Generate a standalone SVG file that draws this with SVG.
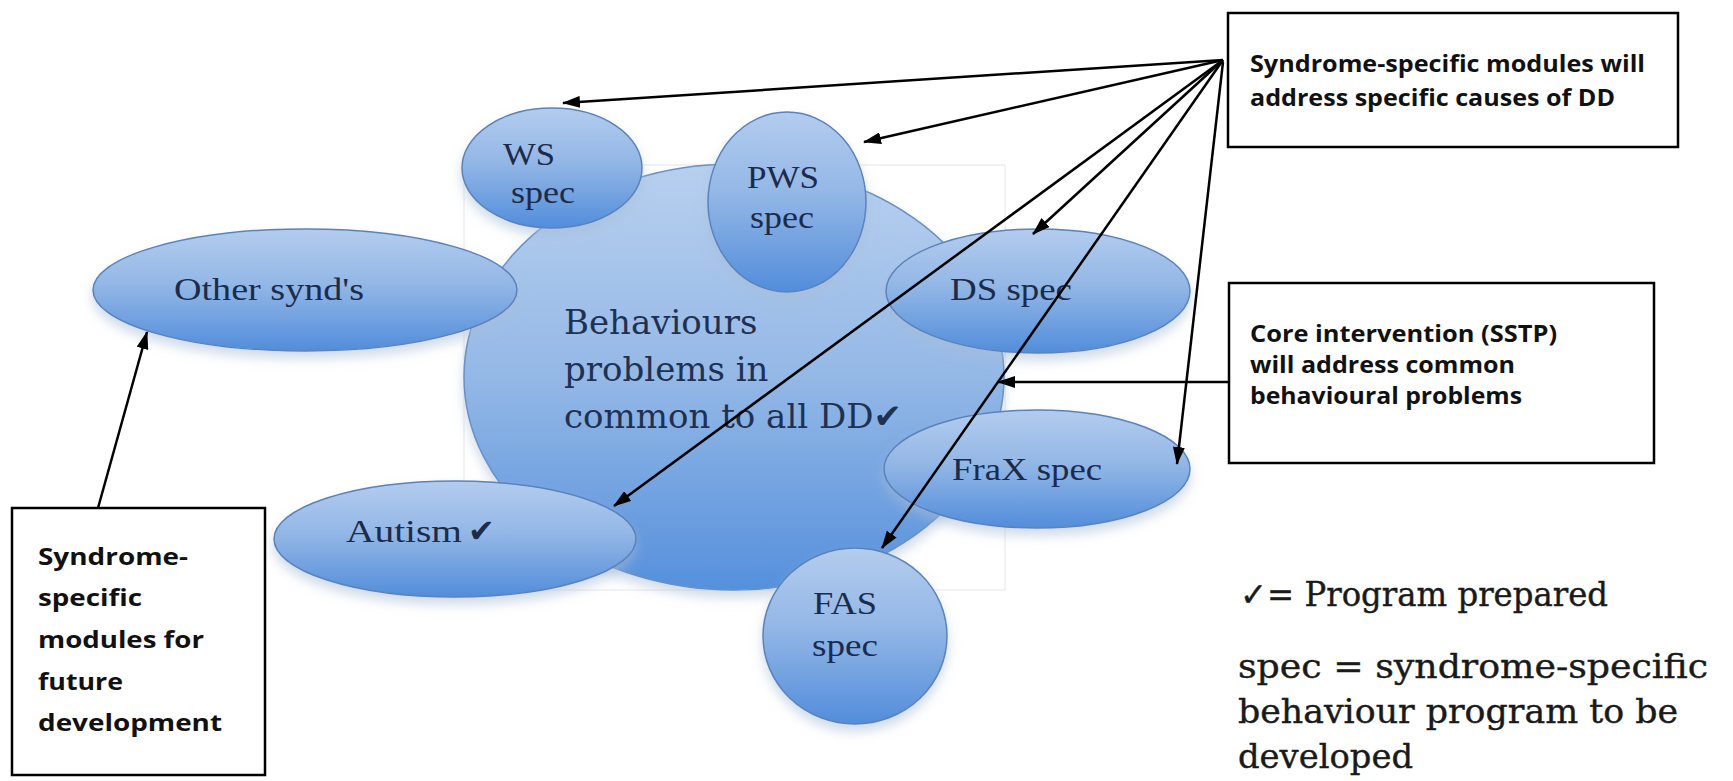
<svg xmlns="http://www.w3.org/2000/svg" width="1733" height="781" viewBox="0 0 1733 781">
<defs>
<linearGradient id="gb" x1="0" y1="0" x2="0" y2="1">
<stop offset="0" stop-color="#b8d0ef"/>
<stop offset="0.5" stop-color="#94b8e6"/>
<stop offset="1" stop-color="#5590dc"/>
</linearGradient>
<linearGradient id="ge" x1="0" y1="0" x2="0" y2="1">
<stop offset="0" stop-color="#b3ccee"/>
<stop offset="0.45" stop-color="#93b7e6"/>
<stop offset="1" stop-color="#528ddb"/>
</linearGradient>
<filter id="sh" x="-20%" y="-20%" width="140%" height="160%">
<feGaussianBlur in="SourceAlpha" stdDeviation="6"/>
<feOffset dy="7" result="b"/>
<feFlood flood-color="#a7bcd6" flood-opacity="0.55"/>
<feComposite in2="b" operator="in"/>
<feMerge><feMergeNode/><feMergeNode in="SourceGraphic"/></feMerge>
</filter>
<marker id="ah" markerWidth="18" markerHeight="12" refX="17" refY="6" orient="auto" markerUnits="userSpaceOnUse">
<path d="M0,0 L18,6 L0,12 z" fill="#000"/>
</marker>
</defs>
<style>
.el{fill:url(#ge);stroke:#5a82bb;stroke-width:1.5;filter:url(#sh)}
.lbl{font-family:"Liberation Serif","Times New Roman",serif;font-size:32px;fill:#1c2b4a}
.big{font-family:"DejaVu Serif",serif;font-size:34px;fill:#1f3152}
.box{fill:#fff;stroke:#000;stroke-width:2.5}
.bt{font-family:"Open Sans","DejaVu Sans",sans-serif;font-weight:700;font-size:24px;fill:#111}
.leg{font-family:"DejaVu Serif",serif;font-size:33px;fill:#1a1a1a;stroke:#1a1a1a;stroke-width:0.4}
.cn{stroke:#000;stroke-width:2.5;fill:none;marker-end:url(#ah)}
</style>
<rect width="1733" height="781" fill="#fff"/>
<rect x="464" y="165" width="541" height="425" fill="none" stroke="#e6e6e6" stroke-width="1"/>

<g id="core">
<ellipse cx="734" cy="377" rx="270" ry="213" fill="url(#gb)" stroke="#6a90c4" stroke-width="1.5" filter="url(#sh)"/>
<text class="big" x="564" y="334">Behaviours</text>
<text class="big" x="564" y="381">problems in</text>
<text class="big" x="564" y="428">common to all DD<tspan font-family="DejaVu Sans">✔</tspan></text>
</g>

<g id="ws">
<ellipse class="el" cx="552" cy="168" rx="90" ry="60"/>
<text class="lbl" x="529" y="165" text-anchor="middle" textLength="52" lengthAdjust="spacingAndGlyphs">WS</text>
<text class="lbl" x="543" y="203" text-anchor="middle" textLength="64" lengthAdjust="spacingAndGlyphs">spec</text>
</g>

<g id="pws">
<ellipse class="el" cx="787" cy="202" rx="79" ry="90"/>
<text class="lbl" x="783" y="188" text-anchor="middle" textLength="72" lengthAdjust="spacingAndGlyphs">PWS</text>
<text class="lbl" x="782" y="228" text-anchor="middle" textLength="64" lengthAdjust="spacingAndGlyphs">spec</text>
</g>

<g id="other">
<ellipse class="el" cx="305" cy="290" rx="212" ry="61"/>
<text class="lbl" x="174" y="300" textLength="190" lengthAdjust="spacingAndGlyphs">Other synd's</text>
</g>

<g id="ds">
<ellipse class="el" cx="1038" cy="291" rx="152" ry="62"/>
<text class="lbl" x="950" y="300" textLength="122" lengthAdjust="spacingAndGlyphs">DS spec</text>
</g>

<g id="frax">
<ellipse class="el" cx="1037" cy="469" rx="153" ry="59"/>
<text class="lbl" x="952" y="480" textLength="150" lengthAdjust="spacingAndGlyphs">FraX spec</text>
</g>

<g id="autism">
<ellipse class="el" cx="455" cy="539" rx="181" ry="58"/>
<text class="lbl" x="346" y="542" textLength="116" lengthAdjust="spacingAndGlyphs">Autism</text>
<text x="468" y="542" font-family="DejaVu Sans" font-size="32" font-weight="bold" fill="#1c2b4a">✔</text>
</g>

<g id="fas">
<ellipse class="el" cx="855" cy="636" rx="92" ry="88"/>
<text class="lbl" x="845" y="614" text-anchor="middle" textLength="64" lengthAdjust="spacingAndGlyphs">FAS</text>
<text class="lbl" x="845" y="656" text-anchor="middle" textLength="66" lengthAdjust="spacingAndGlyphs">spec</text>
</g>

<g id="box-specific">
<rect class="box" x="1228" y="13" width="450" height="134"/>
<text class="bt" x="1250" y="72" textLength="395" lengthAdjust="spacingAndGlyphs">Syndrome-specific modules will</text>
<text class="bt" x="1250" y="106" textLength="365" lengthAdjust="spacingAndGlyphs">address specific causes of DD</text>
</g>

<g id="box-core">
<rect class="box" x="1229" y="283" width="425" height="180"/>
<text class="bt" x="1250" y="342" textLength="307" lengthAdjust="spacingAndGlyphs">Core intervention (SSTP)</text>
<text class="bt" x="1250" y="373" textLength="265" lengthAdjust="spacingAndGlyphs">will address common</text>
<text class="bt" x="1250" y="404" textLength="272" lengthAdjust="spacingAndGlyphs">behavioural problems</text>
</g>

<g id="box-future">
<rect class="box" x="12" y="508" width="253" height="267"/>
<text class="bt" x="38" y="565" textLength="150" lengthAdjust="spacingAndGlyphs">Syndrome-</text>
<text class="bt" x="38" y="606" textLength="104" lengthAdjust="spacingAndGlyphs">specific</text>
<text class="bt" x="38" y="648" textLength="166" lengthAdjust="spacingAndGlyphs">modules for</text>
<text class="bt" x="38" y="690" textLength="85" lengthAdjust="spacingAndGlyphs">future</text>
<text class="bt" x="38" y="731" textLength="184" lengthAdjust="spacingAndGlyphs">development</text>
</g>

<g id="legend">
<text class="leg" x="1240" y="606" textLength="368" lengthAdjust="spacingAndGlyphs"><tspan font-family="DejaVu Sans">✓</tspan>= Program prepared</text>
<text class="leg" x="1238" y="678" textLength="470" lengthAdjust="spacingAndGlyphs">spec = syndrome-specific</text>
<text class="leg" x="1238" y="723" textLength="440" lengthAdjust="spacingAndGlyphs">behaviour program to be</text>
<text class="leg" x="1238" y="768" textLength="175" lengthAdjust="spacingAndGlyphs">developed</text>
</g>

<g id="connectors">
<line class="cn" x1="1223" y1="60" x2="563" y2="103"/>
<line class="cn" x1="1223" y1="60" x2="864" y2="142"/>
<line class="cn" x1="1223" y1="60" x2="1033" y2="234"/>
<line class="cn" x1="1223" y1="60" x2="614" y2="506"/>
<line class="cn" x1="1223" y1="60" x2="882" y2="548"/>
<line class="cn" x1="1223" y1="62" x2="1177" y2="464"/>
<line class="cn" x1="1229" y1="382" x2="998" y2="382"/>
<line class="cn" x1="98" y1="508" x2="147" y2="332"/>
</g>
</svg>
